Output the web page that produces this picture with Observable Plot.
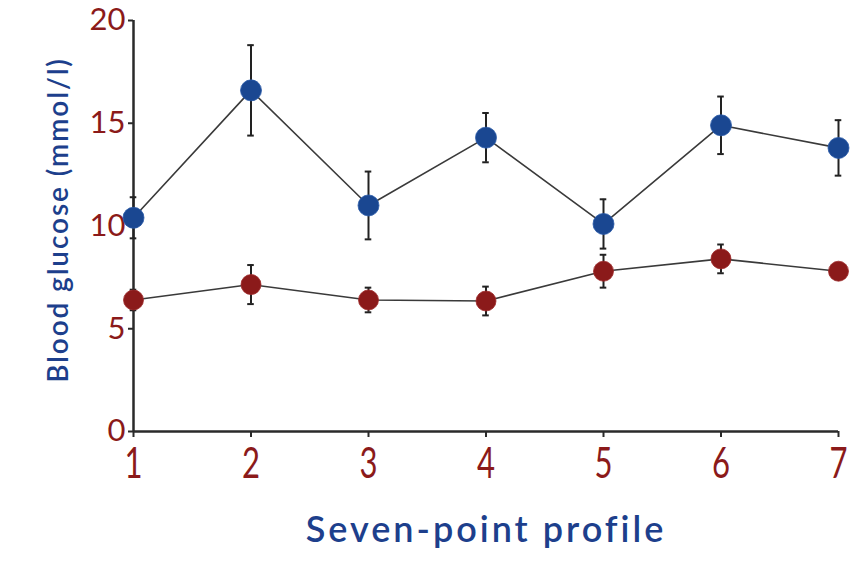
<!DOCTYPE html>
<html>
<head>
<meta charset="utf-8">
<script src="https://cdn.jsdelivr.net/npm/d3@7"></script>
<script src="https://cdn.jsdelivr.net/npm/@observablehq/plot@0.6"></script>
<style>
  html, body { margin: 0; padding: 0; background: #fff; }
  #chart svg { display: block; }
</style>
</head>
<body>
<div id="chart"></div>
<script>
const timepoints = [1, 2, 3, 4, 5, 6, 7];
const blueMean = [10.4, 16.6, 11.0, 14.3, 10.1, 14.9, 13.8];
const blueErr  = [1.0, 2.2, 1.65, 1.2, 1.2, 1.4, 1.35];
const redMean  = [6.4, 7.15, 6.4, 6.35, 7.8, 8.4, 7.8];
const redErr   = [0.5, 0.95, 0.6, 0.7, 0.8, 0.7, 0.4];
const xTicks = [1, 2, 3, 4, 5, 6, 7];
const yTicks = [0, 5, 10, 15, 20];
const xLabel = "Seven-point profile";
const yLabel = "Blood glucose (mmol/l)";

const BLUE = "#1a4791";
const RED = "#8b1a1a";
const TEXTBLUE = "#1d3f8c";
const AXIS = "#2a2a2a";

const blue = timepoints.map((x, i) => ({x, y: blueMean[i], e: blueErr[i], g: "blue"}));
const red = timepoints.map((x, i) => ({x, y: redMean[i], e: redErr[i], g: "red"}));
const all = [...blue, ...red];
const capW = 0.028;

const chart = Plot.plot({
  width: 861,
  height: 563,
  marginLeft: 133,
  marginRight: 23,
  marginTop: 20,
  marginBottom: 132,
  style: {fontFamily: "Lato, 'Noto Sans', sans-serif", background: "#fff"},
  x: {domain: [1, 7]},
  y: {domain: [0, 20]},
  marks: [
    Plot.axisX({ticks: xTicks, tickSize: 6, tickPadding: 11, stroke: AXIS, strokeWidth: 2, fill: RED, fontSize: 42, label: null, tickFormat: d => String(d)}),
    Plot.axisY({ticks: yTicks, tickSize: 5, tickPadding: 3, stroke: AXIS, strokeWidth: 2, fill: RED, fontSize: 31, label: null, tickFormat: d => String(d)}),
    Plot.ruleY([0], {x1: 1, x2: 7, stroke: AXIS, strokeWidth: 2.5}),
    Plot.ruleX([1], {y1: 0, y2: 20, stroke: AXIS, strokeWidth: 2.5}),
    Plot.line(blue, {x: "x", y: "y", stroke: "#3a3a3a", strokeWidth: 1.6}),
    Plot.line(red, {x: "x", y: "y", stroke: "#3a3a3a", strokeWidth: 1.6}),
    Plot.ruleX(all, {x: "x", y1: d => d.y - d.e, y2: d => d.y + d.e, stroke: "#222", strokeWidth: 2}),
    Plot.ruleY(all, {y: d => d.y + d.e, x1: d => d.x - capW, x2: d => d.x + capW, stroke: "#222", strokeWidth: 2}),
    Plot.ruleY(all, {y: d => d.y - d.e, x1: d => d.x - capW, x2: d => d.x + capW, stroke: "#222", strokeWidth: 2}),
    Plot.dot(blue, {x: "x", y: "y", r: 10.5, fill: BLUE, stroke: "#2a5aa8", strokeWidth: 0.8}),
    Plot.dot(red, {x: "x", y: "y", r: 10, fill: RED, stroke: "#9e2a2a", strokeWidth: 0.8}),
    Plot.text([yLabel], {frameAnchor: "left", textAnchor: "middle", rotate: -90, dx: -74, dy: -6, fill: TEXTBLUE, fontSize: 28, fontWeight: 600}),
    Plot.text([xLabel], {frameAnchor: "bottom", textAnchor: "middle", dy: 110, fill: TEXTBLUE, fontSize: 36, fontWeight: 600})
  ]
});
// widen label letter spacing to match the reference's geometric face
chart.querySelectorAll("text").forEach(t => {
  if (t.textContent === xLabel) t.setAttribute("letter-spacing", "3");
  if (t.textContent === yLabel) t.setAttribute("letter-spacing", "1.9");
});
// x tick labels in the reference are tall and narrow
chart.querySelectorAll('g[aria-label="x-axis tick label"] text').forEach(t => {
  const tr = t.getAttribute("transform") || "";
  t.setAttribute("transform", tr + " scale(0.74,1)");
});
document.getElementById("chart").appendChild(chart);
</script>
</body>
</html>
